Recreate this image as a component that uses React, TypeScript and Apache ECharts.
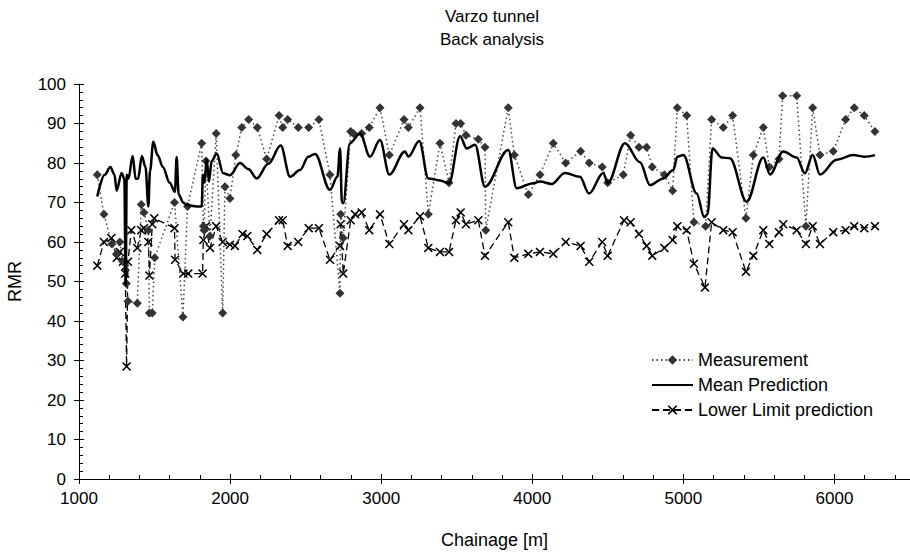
import React, { useEffect, useRef } from "react";
import * as echarts from "echarts";

const titleLines = ["Varzo tunnel", "Back analysis"];
const xAxisName = "Chainage [m]";
const yAxisName = "RMR";
const seriesNames = ["Measurement", "Mean Prediction", "Lower Limit prediction"];

const measurementChainage = [
  1121, 1165, 1218, 1250, 1270, 1291, 1306, 1313, 1324, 1386, 1412, 1430, 1459, 1466, 1485, 1501,
  1632, 1688, 1718, 1812, 1823, 1828, 1840, 1867, 1908, 1951, 1966, 1999, 2038, 2077, 2123, 2180,
  2242, 2324, 2348, 2381, 2451, 2520, 2588, 2661, 2727, 2732, 2749, 2798, 2816, 2871, 2921, 2992,
  3054, 3151, 3180, 3257, 3312, 3389, 3449, 3495, 3526, 3561, 3643, 3687, 3692, 3841, 3881, 3974,
  4051, 4139, 4221, 4320, 4377, 4463, 4499, 4602, 4651, 4706, 4757, 4794, 4874, 4929, 4960, 5022,
  5070, 5147, 5187, 5264, 5326, 5414, 5463, 5529, 5569, 5633, 5657, 5750, 5811, 5856, 5904, 5992,
  6074, 6131, 6197, 6268,
];
const measurementRMR = [
  77, 67, 59.5, 57, 60, 55, 53, 49.5, 45, 44.5, 69.5, 67.5, 63, 42, 42, 56,
  70, 41, 69, 85, 64, 63, 80.5, 61.5, 87.5, 42, 74, 71, 82, 89, 91, 89,
  81, 92, 89, 91, 89, 89, 91, 77, 47, 67, 61, 88, 87.5, 87.5, 89, 94,
  82, 91, 89, 94, 67, 85, 75, 90, 90, 87, 86, 84, 63, 94, 82, 72,
  77, 85, 80, 83, 80, 79, 75, 77, 87, 84, 84, 79, 77, 73, 94, 92,
  65, 64, 91, 89, 92, 66, 82, 89, 79, 81, 97, 97, 64, 94, 82, 83,
  91, 94, 92, 88,
];

const meanChainage = [
  1121, 1170, 1208, 1235, 1249, 1282, 1300, 1309, 1316, 1327, 1355, 1375, 1391, 1416, 1440, 1459,
  1470, 1492, 1520, 1555, 1600, 1635, 1646, 1660, 1690, 1712, 1780, 1812, 1820, 1830, 1845, 1860,
  1878, 1911, 1955, 1999, 2066, 2120, 2176, 2253, 2335, 2397, 2463, 2518, 2562, 2661, 2710, 2728,
  2740, 2749, 2793, 2860, 2926, 2992, 3054, 3157, 3180, 3252, 3312, 3389, 3449, 3522, 3566, 3621,
  3687, 3841, 3897, 4007, 4051, 4128, 4216, 4315, 4375, 4470, 4499, 4613, 4713, 4779, 4867, 4933,
  4960, 5000, 5088, 5138, 5160, 5193, 5253, 5308, 5419, 5529, 5573, 5661, 5750, 5804, 5856, 5904,
  6014, 6125, 6197, 6268,
];
const meanRMR = [
  71.5, 77, 79, 77, 73, 77.5, 76, 49, 77, 76, 81.8, 76, 76, 81.8, 79, 69,
  78, 85.4, 82, 79, 75, 72.7, 81.5, 72, 70, 69.4, 69, 69, 77, 75, 81, 75.3,
  80.5, 82.4, 77.4, 76.9, 80, 78.5, 76.1, 79.8, 84.4, 76.5, 78.2, 81.6, 82.3, 73.2, 76.5, 83.7,
  70, 69.8, 85, 87.5, 81.6, 85.8, 77.1, 82.9, 81.6, 85.6, 76.1, 75.6, 74.9, 86.8, 83.7, 84.6,
  74, 83.3, 73.6, 74.9, 75.3, 74.7, 77.5, 76.5, 72.3, 77.5, 74.9, 85, 80.2, 74.4, 76.1, 78.2,
  81.6, 82, 72.3, 66.3, 67, 83.7, 81.4, 81.2, 70.2, 81.4, 77.1, 82.9, 81.4, 77.4, 82, 77.1,
  80.8, 82, 81.6, 82,
];

const lowerChainage = [
  1121, 1165, 1214, 1250, 1270, 1291, 1306, 1315, 1324, 1346, 1386, 1412, 1430, 1459, 1466, 1485,
  1498, 1632, 1636, 1690, 1723, 1818, 1823, 1840, 1867, 1908, 1951, 1999, 2032, 2083, 2114, 2180,
  2242, 2324, 2348, 2381, 2451, 2520, 2588, 2661, 2727, 2732, 2749, 2798, 2827, 2871, 2921, 2992,
  3054, 3151, 3180, 3257, 3312, 3389, 3449, 3495, 3526, 3561, 3643, 3687, 3841, 3881, 3974, 4051,
  4139, 4221, 4320, 4377, 4463, 4499, 4607, 4651, 4706, 4757, 4794, 4874, 4929, 4960, 5022, 5070,
  5143, 5187, 5264, 5326, 5414, 5463, 5529, 5569, 5633, 5661, 5750, 5811, 5856, 5904, 5992, 6074,
  6131, 6197, 6268,
];
const lowerRMR = [
  54, 60, 61, 56, 57.5, 55, 52, 28.5, 55, 63, 58.5, 63, 63.5, 60, 51.5, 64.5,
  66, 63.5, 55.5, 52, 52, 52, 60.5, 64, 58.5, 64, 60, 59.3, 59, 62, 61.5, 58,
  62, 65.5, 65.5, 59, 60, 63.5, 63.5, 55.5, 59, 64.5, 52, 65.5, 67, 67.5, 63, 67,
  59.5, 64.5, 63, 66.5, 58.5, 57.5, 57.5, 65.5, 67.5, 64.5, 65.5, 56.5, 65, 56, 57, 57.5,
  57, 60, 59, 55, 60, 56.5, 65.5, 65, 62, 59, 56.5, 58.5, 60.5, 64, 63, 54.5,
  48.5, 65, 63, 62.5, 52.5, 56.5, 63, 59.5, 62.5, 64.5, 63, 59.5, 64, 59.5, 62.5, 63,
  64, 63.5, 64,
];

const xMin = 1000;
const xMax = 6500;
const xInterval = 1000;
const yMin = 0;
const yMax = 100;
const yInterval = 10;

const FONT = "'Liberation Sans', Arial, sans-serif";
const CROSS =
  "path://M0,1.2L1.2,0L5,3.8L8.8,0L10,1.2L6.2,5L10,8.8L8.8,10L5,6.2L1.2,10L0,8.8L3.8,5Z";

function pairs(xs: number[], ys: number[]) {
  return xs.map((x, i) => [x, ys[i]]);
}

export default function App() {
  const ref = useRef<HTMLDivElement>(null);
  useEffect(() => {
    document.body.style.margin = "0";
    const chart = echarts.init(ref.current!, null, { renderer: "svg" });
    const baseX = {
      type: "value" as const,
      min: xMin,
      max: xMax,
      interval: xInterval,
      position: "bottom" as const,
      splitLine: { show: false },
    };
    const baseY = {
      type: "value" as const,
      min: yMin,
      max: yMax,
      interval: yInterval,
      position: "left" as const,
      splitLine: { show: false },
    };
    chart.setOption({
      animation: false,
      backgroundColor: "#fff",
      textStyle: { fontFamily: FONT, color: "#000" },
      title: {
        text: titleLines.join("\n"),
        left: 487,
        top: 0,
        textAlign: "center",
        textStyle: { fontFamily: FONT, fontSize: 17, fontWeight: "normal", color: "#000", lineHeight: 23 },
      },
      legend: {
        orient: "vertical",
        left: 646,
        top: 345,
        itemWidth: 41,
        itemHeight: 12,
        itemGap: 5,
        textStyle: { fontFamily: FONT, fontSize: 18, color: "#000", lineHeight: 20 },
        data: seriesNames,
      },
      grid: { left: 79, right: 0, top: 84, bottom: 74, containLabel: false, outerBoundsMode: "none" },
      xAxis: [
        {
          ...baseX,
          name: xAxisName,
          nameLocation: "middle",
          nameGap: 52,
          nameTextStyle: { fontFamily: FONT, fontSize: 18, color: "#000" },
          axisLine: { show: true, onZero: false, lineStyle: { color: "#000", width: 1 } },
          axisTick: { show: true, inside: true, length: 5, lineStyle: { color: "#000" } },
          minorTick: { show: true, splitNumber: 5, length: 4, lineStyle: { color: "#000" } },
          axisLabel: {
            fontFamily: FONT,
            fontSize: 17,
            color: "#000",
            margin: 11,
            showMaxLabel: false,
            formatter: (v: number) => String(v),
          },
        },
        {
          ...baseX,
          axisLine: { show: false },
          axisTick: { show: true, inside: false, length: 5, lineStyle: { color: "#000" } },
          axisLabel: { show: false },
        },
      ],
      yAxis: [
        {
          ...baseY,
          name: yAxisName,
          nameLocation: "middle",
          nameGap: 55,
          nameRotate: 90,
          nameTextStyle: { fontFamily: FONT, fontSize: 18, color: "#000" },
          axisLine: { show: true, onZero: false, lineStyle: { color: "#000", width: 1 } },
          axisTick: { show: true, inside: true, length: 5, lineStyle: { color: "#000" } },
          minorTick: { show: true, splitNumber: 5, length: 4, lineStyle: { color: "#000" } },
          axisLabel: { fontFamily: FONT, fontSize: 17, color: "#000", margin: 13, formatter: (v: number) => String(v) },
        },
        {
          ...baseY,
          axisLine: { show: false },
          axisTick: { show: true, inside: false, length: 5, lineStyle: { color: "#000" } },
          axisLabel: { show: false },
        },
      ],
      series: [
        {
          name: seriesNames[0],
          type: "line",
          xAxisIndex: 0,
          yAxisIndex: 0,
          data: pairs(measurementChainage, measurementRMR),
          symbol: "diamond",
          symbolSize: 9,
          showSymbol: true,
          itemStyle: { color: "#333" },
          lineStyle: { color: "#444", width: 1.5, type: [1.5, 3] },
          z: 3,
        },
        {
          name: seriesNames[1],
          type: "line",
          xAxisIndex: 0,
          yAxisIndex: 0,
          data: pairs(meanChainage, meanRMR),
          symbol: "none",
          smooth: 0.35,
          smoothMonotone: "x",
          itemStyle: { color: "transparent", opacity: 0 },
          lineStyle: { color: "#000", width: 2.5, type: "solid" },
          z: 4,
        },
        {
          name: seriesNames[2],
          type: "line",
          xAxisIndex: 0,
          yAxisIndex: 0,
          data: pairs(lowerChainage, lowerRMR),
          symbol: CROSS,
          symbolSize: 9,
          itemStyle: { color: "#000" },
          lineStyle: { color: "#000", width: 1.3, type: [7, 4] },
          z: 2,
        },
      ],
    });
    return () => chart.dispose();
  }, []);
  return (
    <div
      ref={ref}
      style={{ position: "fixed", left: 0, top: 0, width: 910, height: 553, background: "#fff" }}
    />
  );
}
